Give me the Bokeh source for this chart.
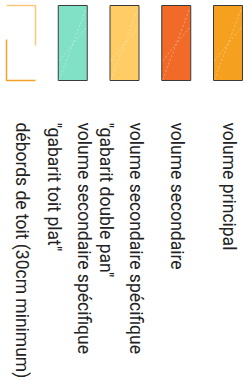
import math
from bokeh.plotting import figure
from bokeh.models import Range1d, ColumnDataSource
from bokeh.core.properties import value
from bokeh.embed import file_html
from bokeh.resources import INLINE

# ---- data (legend entries, first entry at right) ----
labels = [
    ["volume principal"],
    ["volume secondaire"],
    ["volume secondaire spécifique", "\"gabarit double pan\""],
    ["volume secondaire spécifique", "\"gabarit toit plat\""],
    ["débords de toit (30cm minimum)"],
]
fills = ["#F6A01F", "#F26A27", "#FFCC66", "#80E1C7", None]
outline_color = "#F7A12A"

# ---- layout constants (screen px of the page) ----
W, H = 248, 382
first_center = 227.5
step = 51.75
sw_w, sw_top, sw_bot = 29, 5, 80
text_top = 122
line_gap = 30

p = figure(width=W, height=H, output_backend="svg", toolbar_location=None,
           x_range=Range1d(0, W), y_range=Range1d(H, 0),
           min_border=0)
p.axis.visible = False
p.grid.visible = False
p.outline_line_color = None
p.background_fill_color = "white"
p.border_fill_color = "white"

centers = [first_center - i * step for i in range(len(labels))]

# filled swatches
sx, sc = [], []
for c, f in zip(centers, fills):
    if f is not None:
        sx.append(c)
        sc.append(f)
src = ColumnDataSource(dict(x=sx, y=[(sw_top + sw_bot) / 2] * len(sx), c=sc))
p.rect(x="x", y="y", width=sw_w, height=sw_bot - sw_top, source=src,
       fill_color="c", line_color="#3a3a3a", line_width=1)

# faint hatch lines inside swatches
hx, hy = [], []
for x in sx:
    l, r = x - sw_w / 2 + 1, x + sw_w / 2 - 1
    hx.append([l, r]); hy.append([sw_bot - 1, sw_top + 3])
    hx.append([l, r]); hy.append([sw_bot - 20, sw_top + 22])
p.multi_line(xs=hx, ys=hy, line_color="white", line_alpha=0.35,
             line_width=1, line_dash="2 2")

# outline swatch (roof overhang), broken outline
for c, f in zip(centers, fills):
    if f is None:
        l, r = c - sw_w / 2, c + sw_w / 2
        p.line(x=[l, r, r], y=[sw_top, sw_top, sw_top + 40],
               line_color=outline_color, line_alpha=0.6, line_width=1.5)
        p.line(x=[r, l, l], y=[sw_bot, sw_bot, sw_bot - 41],
               line_color=outline_color, line_width=1.5)

# text lines
tx, ty, tt = [], [], []
for c, lines in zip(centers, labels):
    n = len(lines)
    x0 = c + 1 + 10 * (n - 1)
    for k, s in enumerate(lines):
        tx.append(x0 - line_gap * k)
        ty.append(text_top)
        tt.append(s)
p.text(x=tx, y=ty, text=tt, angle=-math.pi / 2, text_align="left",
       text_baseline="middle", text_font=value("Roboto"),
       text_font_size="17.5px", text_color="#222222")

open("out.html", "w").write(file_html(p, INLINE))
